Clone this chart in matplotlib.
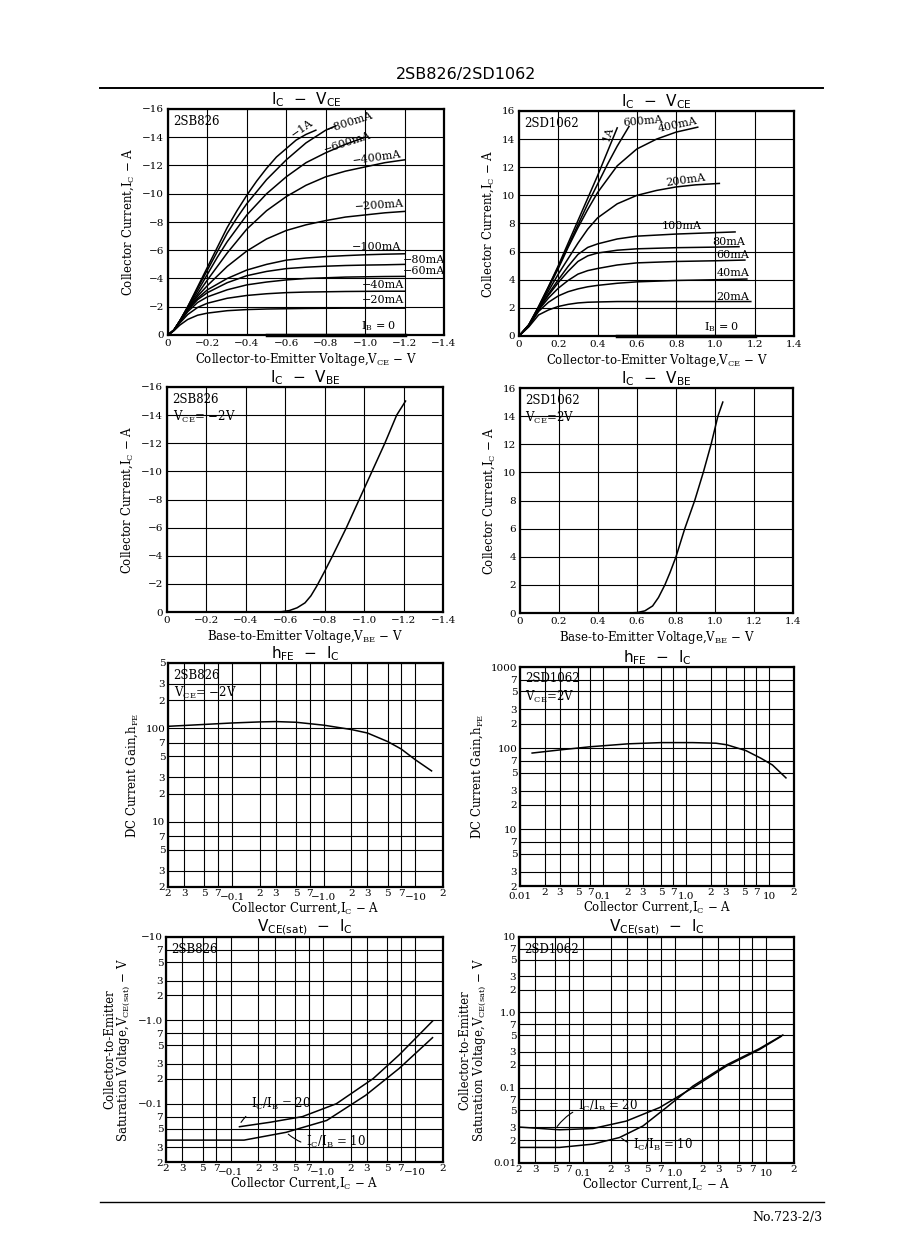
import numpy as np
import matplotlib
matplotlib.use("Agg")
import matplotlib.pyplot as plt
from matplotlib.lines import Line2D

plt.rcParams["font.family"] = ["DejaVu Serif"]
plt.rcParams["mathtext.fontset"] = "dejavuserif"

# ---- 2SB826  Ic - Vce ----
b_vce_1a = [0, -0.03, -0.06, -0.1, -0.15, -0.2, -0.25, -0.3, -0.35, -0.4, -0.45, -0.5, -0.55, -0.6, -0.65, -0.7, -0.75]
b_ic_1a = [0, -0.35, -1.0, -2.0, -3.4, -4.8, -6.2, -7.6, -8.8, -9.9, -10.9, -11.8, -12.6, -13.2, -13.8, -14.2, -14.5]
b_vce_800 = [0, -0.03, -0.06, -0.1, -0.15, -0.2, -0.25, -0.3, -0.35, -0.4, -0.5, -0.6, -0.7, -0.8, -0.85]
b_ic_800 = [0, -0.35, -1.0, -2.0, -3.3, -4.6, -5.9, -7.2, -8.3, -9.3, -11.0, -12.4, -13.6, -14.5, -14.8]
b_vce_600 = [0, -0.03, -0.06, -0.1, -0.15, -0.2, -0.25, -0.3, -0.4, -0.5, -0.6, -0.7, -0.8, -0.9, -1.0]
b_ic_600 = [0, -0.35, -1.0, -1.95, -3.1, -4.3, -5.5, -6.6, -8.5, -10.0, -11.2, -12.2, -12.9, -13.5, -14.0]
b_vce = [0, -0.03, -0.06, -0.1, -0.15, -0.2, -0.3, -0.4, -0.5, -0.6, -0.7, -0.8, -0.9, -1.0, -1.1, -1.2]
b_ic_400 = [0, -0.35, -1.0, -1.9, -2.9, -3.9, -5.8, -7.5, -8.8, -9.8, -10.6, -11.2, -11.6, -11.9, -12.2, -12.4]
b_ic_200 = [0, -0.35, -1.0, -1.85, -2.75, -3.5, -4.85, -5.95, -6.8, -7.4, -7.8, -8.1, -8.35, -8.5, -8.65, -8.75]
b_ic_100 = [0, -0.35, -0.95, -1.8, -2.6, -3.2, -4.0, -4.6, -5.0, -5.3, -5.45, -5.55, -5.62, -5.68, -5.72, -5.75]
b_ic_80 = [0, -0.35, -0.95, -1.75, -2.5, -3.0, -3.7, -4.2, -4.5, -4.7, -4.8, -4.87, -4.92, -4.95, -4.97, -5.0]
b_ic_60 = [0, -0.35, -0.9, -1.65, -2.3, -2.7, -3.2, -3.55, -3.75, -3.9, -4.0, -4.05, -4.1, -4.12, -4.14, -4.15]
b_ic_40 = [0, -0.33, -0.85, -1.45, -1.95, -2.25, -2.6, -2.8, -2.92, -3.0, -3.04, -3.06, -3.08, -3.09, -3.1, -3.1]
b_ic_20 = [0, -0.3, -0.7, -1.1, -1.4, -1.55, -1.72, -1.8, -1.84, -1.86, -1.88, -1.89, -1.9, -1.9, -1.9, -1.9]
b_vce_ib0 = [-0.5, -1.2]
b_ic_ib0 = [0, 0]

# ---- 2SD1062  Ic - Vce ----
d_vce_1a = [0, 0.05, 0.1, 0.15, 0.2, 0.25, 0.3, 0.35, 0.4, 0.45, 0.5]
d_ic_1a = [0, 0.8, 2.1, 3.5, 5.0, 6.6, 8.2, 9.8, 11.4, 13.1, 14.8]
d_vce_600 = [0, 0.05, 0.1, 0.15, 0.2, 0.25, 0.3, 0.35, 0.4, 0.45, 0.5, 0.56]
d_ic_600 = [0, 0.8, 2.1, 3.5, 4.9, 6.4, 7.9, 9.4, 10.8, 12.2, 13.5, 14.9]
d_vce_400 = [0, 0.05, 0.1, 0.15, 0.2, 0.25, 0.3, 0.35, 0.4, 0.5, 0.6, 0.7, 0.8, 0.91]
d_ic_400 = [0, 0.8, 2.0, 3.4, 4.8, 6.3, 7.7, 9.0, 10.2, 12.1, 13.3, 14.0, 14.5, 14.85]
d_vce_200 = [0, 0.05, 0.1, 0.15, 0.2, 0.25, 0.3, 0.35, 0.4, 0.5, 0.6, 0.7, 0.8, 0.9, 1.02]
d_ic_200 = [0, 0.75, 2.0, 3.2, 4.4, 5.5, 6.6, 7.6, 8.4, 9.4, 10.0, 10.35, 10.6, 10.75, 10.85]
d_vce_100 = [0, 0.05, 0.1, 0.15, 0.2, 0.25, 0.3, 0.35, 0.4, 0.5, 0.6, 0.8, 1.0, 1.1]
d_ic_100 = [0, 0.75, 1.95, 3.0, 4.0, 4.95, 5.8, 6.3, 6.55, 6.9, 7.1, 7.25, 7.35, 7.4]
d_vce_80 = [0, 0.05, 0.1, 0.15, 0.2, 0.25, 0.3, 0.35, 0.4, 0.5, 0.6, 0.8, 1.0, 1.12]
d_ic_80 = [0, 0.75, 1.9, 2.9, 3.8, 4.6, 5.3, 5.7, 5.9, 6.1, 6.2, 6.28, 6.32, 6.35]
d_vce_60 = [0, 0.05, 0.1, 0.15, 0.2, 0.25, 0.3, 0.35, 0.4, 0.5, 0.6, 0.8, 1.0, 1.15]
d_ic_60 = [0, 0.75, 1.85, 2.7, 3.4, 3.95, 4.4, 4.65, 4.8, 5.05, 5.2, 5.3, 5.35, 5.4]
d_vce_40 = [0, 0.05, 0.1, 0.15, 0.2, 0.25, 0.3, 0.35, 0.4, 0.5, 0.6, 0.8, 1.0, 1.16]
d_ic_40 = [0, 0.7, 1.75, 2.4, 2.85, 3.15, 3.35, 3.5, 3.6, 3.75, 3.85, 3.95, 4.0, 4.05]
d_vce_20 = [0, 0.05, 0.1, 0.15, 0.2, 0.25, 0.3, 0.35, 0.4, 0.5, 0.6, 0.8, 1.0, 1.18]
d_ic_20 = [0, 0.65, 1.5, 1.85, 2.1, 2.25, 2.35, 2.4, 2.42, 2.45, 2.45, 2.45, 2.45, 2.45]
d_vce_ib0 = [0.5, 1.2]
d_ic_ib0 = [0, 0]

# ---- Ic - Vbe ----
b_vbe = [-0.53, -0.58, -0.62, -0.66, -0.7, -0.73, -0.76, -0.8, -0.84, -0.875, -0.91, -0.975, -1.04, -1.105, -1.165, -1.21]
b_ic_vbe = [0, -0.02, -0.1, -0.3, -0.65, -1.15, -1.85, -2.9, -4.0, -5.0, -6.0, -8.0, -10.0, -12.0, -14.0, -15.0]
d_vbe = [0.55, 0.6, 0.64, 0.68, 0.71, 0.743, 0.77, 0.8, 0.845, 0.896, 0.94, 0.98, 1.015, 1.04]
d_ic_vbe = [0, 0.03, 0.15, 0.5, 1.1, 2.0, 2.9, 4.0, 6.0, 8.0, 10.0, 12.0, 14.0, 15.0]

# ---- hFE - Ic  (magnitudes) ----
b_hfe_ic = [0.02, 0.05, 0.1, 0.2, 0.3, 0.5, 1.0, 2.0, 3.0, 5.0, 7.0, 10, 15]
b_hfe = [105, 110, 114, 117, 118, 116, 108, 97, 89, 72, 60, 46, 35]
d_hfe_ic = [0.014, 0.03, 0.07, 0.2, 0.5, 1.2, 2.3, 3.1, 5.3, 8, 11, 16]
d_hfe = [87, 95, 104, 113, 117, 117, 115, 110, 93, 75, 62, 43]

# ---- Vce(sat) - Ic  (magnitudes) ----
b_sat20_ic = [0.125, 0.27, 0.6, 1.4, 3.5, 6.7, 15.4]
b_sat20_v = [0.053, 0.060, 0.070, 0.10, 0.20, 0.385, 0.98]
b_sat10_ic = [0.02, 0.14, 0.4, 1.1, 2.9, 6.7, 15.4]
b_sat10_v = [0.0366, 0.0366, 0.0454, 0.063, 0.126, 0.265, 0.62]
d_sat20_ic = [0.02, 0.0555, 0.128, 0.296, 0.685, 1.58, 3.66, 8.4, 14.5]
d_sat20_v = [0.030, 0.0276, 0.0287, 0.036, 0.0545, 0.10, 0.193, 0.321, 0.48]
d_sat10_ic = [0.02, 0.0555, 0.128, 0.25, 0.45, 0.81, 1.58, 3.66, 8.4, 15.1]
d_sat10_v = [0.0161, 0.0161, 0.0178, 0.0218, 0.031, 0.0545, 0.105, 0.2, 0.33, 0.5]

# ---- tick labels ----
b_vce_ticks = [0, -0.2, -0.4, -0.6, -0.8, -1.0, -1.2, -1.4]
b_vce_labels = ["0", "−0.2", "−0.4", "−0.6", "−0.8", "−1.0", "−1.2", "−1.4"]
d_vce_ticks = [0, 0.2, 0.4, 0.6, 0.8, 1.0, 1.2, 1.4]
d_vce_labels = ["0", "0.2", "0.4", "0.6", "0.8", "1.0", "1.2", "1.4"]
b_ic_ticks = [0, -2, -4, -6, -8, -10, -12, -14, -16]
b_ic_labels = ["0", "−2", "−4", "−6", "−8", "−10", "−12", "−14", "−16"]
d_ic_ticks = [0, 2, 4, 6, 8, 10, 12, 14, 16]
d_ic_labels = ["0", "2", "4", "6", "8", "10", "12", "14", "16"]

minor_digits = [2, 3, 5, 7]


def log_minor(lo_decade, hi_decade, top=None):
    vals = []
    for d in range(lo_decade, hi_decade):
        for m in minor_digits:
            v = m * 10.0 ** d
            if top is None or v <= top * 1.0001:
                vals.append(v)
    return vals


def digit(v):
    return f"{v / 10 ** np.floor(np.log10(v) + 1e-9):.0f}"


def frame(ax):
    for s in ax.spines.values():
        s.set_linewidth(1.6)
    ax.grid(True, which="both", color="k", lw=0.8)
    ax.set_axisbelow(True)


def setup_linear(ax, xlim, ylim, xt, xl, yt, yl):
    ax.set_xlim(*xlim)
    ax.set_ylim(*ylim)
    ax.set_xticks(xt, xl)
    ax.set_yticks(yt, yl)
    ax.tick_params(length=0, labelsize=7.5, pad=3)
    frame(ax)


def setup_log(ax, xlim, xmaj, xmaj_lab, xmin, ylim, ymaj, ymaj_lab, ymin):
    ax.set_xscale("log")
    ax.set_yscale("log")
    ax.set_xlim(*xlim)
    ax.set_ylim(*ylim)
    ax.set_xticks(xmaj, xmaj_lab)
    ax.set_xticks(xmin, [digit(v) for v in xmin], minor=True)
    ax.set_yticks(ymaj, ymaj_lab)
    ax.set_yticks(ymin, [digit(v) for v in ymin], minor=True)
    ax.tick_params(which="both", length=0, labelsize=7.5)
    ax.tick_params(axis="x", which="major", pad=4)
    ax.tick_params(axis="x", which="minor", pad=1.5)
    ax.tick_params(axis="y", which="both", pad=2)
    frame(ax)


def title(ax, s, pad=1.5):
    ax.set_title(s, fontfamily="DejaVu Sans", fontsize=11, pad=pad)


def tag(ax, s):
    ax.text(0.02, 0.975, s, transform=ax.transAxes, ha="left", va="top",
            fontsize=8.5, linespacing=1.3)


fig = plt.figure(figsize=(8.98, 12.6), dpi=100)
W, H = 898.0, 1260.0


def add_ax(l, r, t, b):
    return fig.add_axes([l / W, 1 - b / H, (r - l) / W, (b - t) / H])


LW = 1.1
lab_fs = 8.5
cfs = 8
ttl_ivce = r"$\mathregular{I_C}$  −  $\mathregular{V_{CE}}$"
ttl_ivbe = r"$\mathregular{I_C}$  −  $\mathregular{V_{BE}}$"
ttl_hfe = r"$\mathregular{h_{FE}}$  −  $\mathregular{I_C}$"
ttl_sat = r"$\mathregular{V_{CE(sat)}}$  −  $\mathregular{I_C}$"
lab_ic = r"Collector Current,I$_\mathregular{C}$ − A"
lab_vce = r"Collector-to-Emitter Voltage,V$_\mathregular{CE}$ − V"
lab_vbe = r"Base-to-Emitter Voltage,V$_\mathregular{BE}$ − V"
lab_hfe = r"DC Current Gain,h$_\mathregular{FE}$"
lab_sat = "Collector-to-Emitter\n" + r"Saturation Voltage,V$_\mathregular{CE(sat)}$ − V"
ib0 = r"I$_\mathregular{B}$ = 0"
r20 = r"I$_\mathregular{C}$/I$_\mathregular{B}$ = 20"
r10 = r"I$_\mathregular{C}$/I$_\mathregular{B}$ = 10"

# ---- 1: 2SB826 Ic-Vce ----
ax1 = add_ax(168, 444, 109, 335)
setup_linear(ax1, (0, -1.4), (0, -16), b_vce_ticks, b_vce_labels, b_ic_ticks, b_ic_labels)
ax1.plot(b_vce_1a, b_ic_1a, "k-", lw=LW)
ax1.plot(b_vce_800, b_ic_800, "k-", lw=LW)
ax1.plot(b_vce_600, b_ic_600, "k-", lw=LW)
for ic in [b_ic_400, b_ic_200, b_ic_100, b_ic_80, b_ic_60, b_ic_40, b_ic_20]:
    ax1.plot(b_vce, ic, "k-", lw=LW)
ax1.plot(b_vce_ib0, b_ic_ib0, "k-", lw=2.5, clip_on=False)
for s, x, y, r in [("−1A", -0.68, -14.6, 35), ("−800mA", -0.92, -15.05, 18),
                   ("−600mA", -0.91, -13.6, 18), ("−400mA", -1.06, -12.55, 8),
                   ("−200mA", -1.07, -9.15, 4), ("−100mA", -1.06, -6.2, 0),
                   ("−80mA", -1.3, -5.3, 0), ("−60mA", -1.3, -4.5, 0),
                   ("−40mA", -1.09, -3.55, 0), ("−20mA", -1.09, -2.45, 0)]:
    ax1.text(x, y, s, fontsize=cfs, ha="center", va="center", rotation=r)
ax1.text(-1.07, -0.6, ib0, fontsize=cfs, ha="center", va="center")
tag(ax1, "2SB826")
title(ax1, ttl_ivce)
ax1.set_xlabel(lab_vce, fontsize=lab_fs, labelpad=2)
ax1.set_ylabel(lab_ic, fontsize=lab_fs, labelpad=4)

# ---- 2: 2SD1062 Ic-Vce ----
ax2 = add_ax(519, 794, 111, 336)
setup_linear(ax2, (0, 1.4), (0, 16), d_vce_ticks, d_vce_labels, d_ic_ticks, d_ic_labels)
for v, ic in [(d_vce_1a, d_ic_1a), (d_vce_600, d_ic_600), (d_vce_400, d_ic_400),
              (d_vce_200, d_ic_200), (d_vce_100, d_ic_100), (d_vce_80, d_ic_80),
              (d_vce_60, d_ic_60), (d_vce_40, d_ic_40), (d_vce_20, d_ic_20)]:
    ax2.plot(v, ic, "k-", lw=LW)
ax2.plot(d_vce_ib0, d_ic_ib0, "k-", lw=2.5, clip_on=False)
for s, x, y, r in [("1A", 0.455, 14.4, 72), ("600mA", 0.63, 15.3, 5),
                   ("400mA", 0.81, 15.0, 12), ("200mA", 0.85, 11.1, 8),
                   ("100mA", 0.83, 7.8, 0), ("80mA", 1.07, 6.7, 0),
                   ("60mA", 1.09, 5.75, 0), ("40mA", 1.09, 4.45, 0),
                   ("20mA", 1.09, 2.8, 0)]:
    ax2.text(x, y, s, fontsize=cfs, ha="center", va="center", rotation=r)
ax2.text(1.03, 0.65, ib0, fontsize=cfs, ha="center", va="center")
tag(ax2, "2SD1062")
title(ax2, ttl_ivce)
ax2.set_xlabel(lab_vce, fontsize=lab_fs, labelpad=2)
ax2.set_ylabel(lab_ic, fontsize=lab_fs, labelpad=4)

# ---- 3: 2SB826 Ic-Vbe ----
ax3 = add_ax(167, 443, 387, 612)
setup_linear(ax3, (0, -1.4), (0, -16), b_vce_ticks, b_vce_labels, b_ic_ticks, b_ic_labels)
ax3.plot(b_vbe, b_ic_vbe, "k-", lw=LW)
tag(ax3, "2SB826\n" + r"V$_\mathregular{CE}$= −2V")
title(ax3, ttl_ivbe)
ax3.set_xlabel(lab_vbe, fontsize=lab_fs, labelpad=2)
ax3.set_ylabel(lab_ic, fontsize=lab_fs, labelpad=4)

# ---- 4: 2SD1062 Ic-Vbe ----
ax4 = add_ax(520, 793, 388, 613)
setup_linear(ax4, (0, 1.4), (0, 16), d_vce_ticks, d_vce_labels, d_ic_ticks, d_ic_labels)
ax4.plot(d_vbe, d_ic_vbe, "k-", lw=LW)
tag(ax4, "2SD1062\n" + r"V$_\mathregular{CE}$=2V")
title(ax4, ttl_ivbe)
ax4.set_xlabel(lab_vbe, fontsize=lab_fs, labelpad=2)
ax4.set_ylabel(lab_ic, fontsize=lab_fs, labelpad=4)

# ---- 5: 2SB826 hFE-Ic ----
ax5 = add_ax(168, 443, 663, 887)
setup_log(ax5, (0.02, 20), [0.1, 1, 10], ["−0.1", "−1.0", "−10"], log_minor(-2, 2, 20),
          (2, 500), [10, 100], ["10", "100"], log_minor(0, 3, 500))
ax5.plot(b_hfe_ic, b_hfe, "k-", lw=LW)
tag(ax5, "2SB826\n" + r"V$_\mathregular{CE}$= −2V")
title(ax5, ttl_hfe)
ax5.set_xlabel(lab_ic, fontsize=lab_fs, labelpad=-1)
ax5.set_ylabel(lab_hfe, fontsize=lab_fs, labelpad=4)

# ---- 6: 2SD1062 hFE-Ic ----
ax6 = add_ax(520, 794, 667, 886)
setup_log(ax6, (0.01, 20), [0.01, 0.1, 1, 10], ["0.01", "0.1", "1.0", "10"], log_minor(-2, 2, 20),
          (2, 1000), [10, 100, 1000], ["10", "100", "1000"], log_minor(0, 3))
ax6.plot(d_hfe_ic, d_hfe, "k-", lw=LW)
tag(ax6, "2SD1062\n" + r"V$_\mathregular{CE}$=2V")
title(ax6, ttl_hfe)
ax6.set_xlabel(lab_ic, fontsize=lab_fs, labelpad=-1)
ax6.set_ylabel(lab_hfe, fontsize=lab_fs, labelpad=4)

# ---- 7: 2SB826 Vce(sat)-Ic ----
ax7 = add_ax(166, 443, 937, 1162)
setup_log(ax7, (0.02, 20), [0.1, 1, 10], ["−0.1", "−1.0", "−10"], log_minor(-2, 2, 20),
          (0.02, 10), [0.1, 1, 10], ["−0.1", "−1.0", "−10"], log_minor(-2, 1))
ax7.plot(b_sat20_ic, b_sat20_v, "k-", lw=LW)
ax7.plot(b_sat10_ic, b_sat10_v, "k-", lw=LW)
ax7.annotate(r20, xy=(0.125, 0.056), xytext=(0.165, 0.1), fontsize=8.5,
             ha="left", va="center",
             arrowprops=dict(arrowstyle="-", lw=0.8, connectionstyle="arc3,rad=0.3"))
ax7.annotate(r10, xy=(0.4, 0.0454), xytext=(0.66, 0.0345), fontsize=8.5,
             ha="left", va="center",
             arrowprops=dict(arrowstyle="-", lw=0.8, connectionstyle="arc3,rad=-0.3"))
tag(ax7, "2SB826")
title(ax7, ttl_sat, pad=0.5)
ax7.set_xlabel(lab_ic, fontsize=lab_fs, labelpad=-1)
ax7.set_ylabel(lab_sat, fontsize=lab_fs, labelpad=4, linespacing=1.0)

# ---- 8: 2SD1062 Vce(sat)-Ic ----
ax8 = add_ax(519, 794, 937, 1163)
setup_log(ax8, (0.02, 20), [0.1, 1, 10], ["0.1", "1.0", "10"], log_minor(-2, 2, 20),
          (0.01, 10), [0.01, 0.1, 1, 10], ["0.01", "0.1", "1.0", "10"], log_minor(-2, 1))
ax8.plot(d_sat20_ic, d_sat20_v, "k-", lw=LW)
ax8.plot(d_sat10_ic, d_sat10_v, "k-", lw=LW)
ax8.annotate(r20, xy=(0.05, 0.0285), xytext=(0.088, 0.0575), fontsize=8.5,
             ha="left", va="center",
             arrowprops=dict(arrowstyle="-", lw=0.8, connectionstyle="arc3,rad=0.3"))
ax8.annotate(r10, xy=(0.25, 0.0225), xytext=(0.35, 0.0175), fontsize=8.5,
             ha="left", va="center",
             arrowprops=dict(arrowstyle="-", lw=0.8, connectionstyle="arc3,rad=-0.3"))
tag(ax8, "2SD1062")
title(ax8, ttl_sat, pad=0.5)
ax8.set_xlabel(lab_ic, fontsize=lab_fs, labelpad=-1)
ax8.set_ylabel(lab_sat, fontsize=lab_fs, labelpad=4, linespacing=1.0)

# ---- page header / footer ----
fig.text(466 / W, 1 - 75 / H, "2SB826/2SD1062", fontfamily="DejaVu Sans",
         fontsize=11.5, ha="center", va="center")
fig.add_artist(Line2D([100 / W, 823 / W], [1 - 88 / H, 1 - 88 / H], color="k", lw=1.4))
fig.add_artist(Line2D([100 / W, 824 / W], [1 - 1202 / H, 1 - 1202 / H], color="k", lw=1.0))
fig.text(822 / W, 1 - 1217 / H, "No.723-2/3", fontsize=9, ha="right", va="center")

fig.savefig("out.png", dpi=100)
